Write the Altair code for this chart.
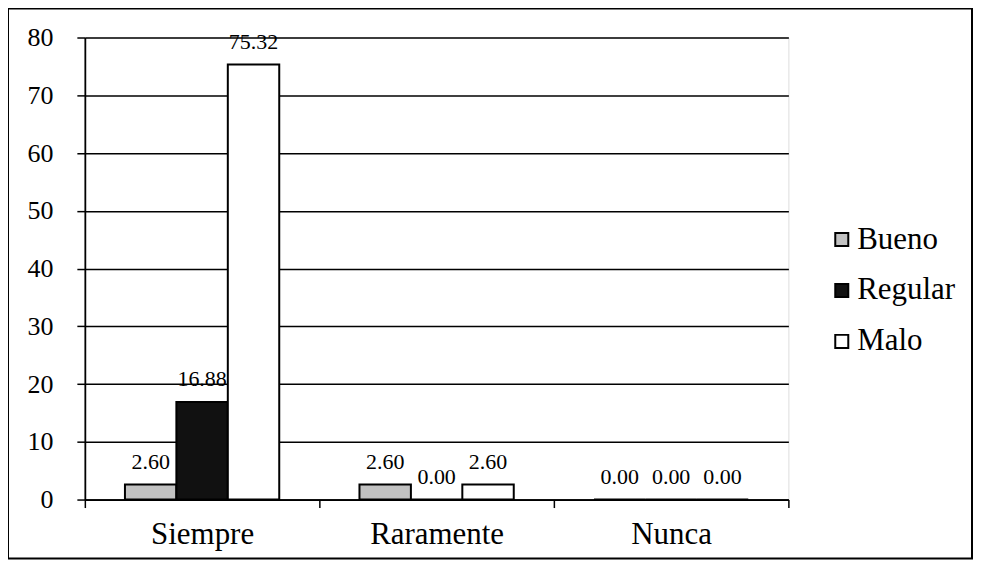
import altair as alt
import pandas as pd

categories = ["Siempre", "Raramente", "Nunca"]
series = ["Bueno", "Regular", "Malo"]
bueno = [2.60, 2.60, 0.00]
regular = [16.88, 0.00, 0.00]
malo = [75.32, 2.60, 0.00]

rows = []
for i, c in enumerate(categories):
    for s, vals in zip(series, [bueno, regular, malo]):
        rows.append({"cat": c, "serie": s, "valor": vals[i]})
df = pd.DataFrame(rows)

FONT = "Liberation Serif"
W, H = 705, 463

x = alt.X("cat:N", sort=categories, title=None,
          scale=alt.Scale(paddingInner=0, paddingOuter=0),
          axis=alt.Axis(labelAngle=0, labelFontSize=31, labelFont=FONT, labelColor="black",
                        tickBand="extent", tickSize=8, tickColor="black", tickWidth=1.5,
                        domainColor="black", domainWidth=1.8, labelPadding=12, grid=False))
xo = alt.XOffset("serie:N", sort=series,
                 scale=alt.Scale(paddingInner=0, paddingOuter=0.78))
y = alt.Y("valor:Q", title=None,
          scale=alt.Scale(domain=[0, 80], nice=False),
          axis=alt.Axis(values=list(range(0, 81, 10)), labelFontSize=26, labelFont=FONT,
                        labelColor="black", tickSize=8, tickColor="black", tickWidth=1.5,
                        domainColor="black", domainWidth=1.8, labelPadding=24,
                        grid=True, gridColor="black", gridWidth=1.5))

color = alt.Color("serie:N", sort=series, title=None,
                  scale=alt.Scale(domain=series, range=["#c2c2c2", "#111111", "#ffffff"]),
                  legend=alt.Legend(orient="none", legendX=743, legendY=187, padding=0,
                                    symbolType="square", symbolSize=170,
                                    symbolStrokeColor="black", symbolStrokeWidth=2,
                                    labelFont=FONT, labelFontSize=31, labelColor="black",
                                    rowPadding=19, labelOffset=0))

bars = alt.Chart(df).mark_bar(stroke="black", strokeWidth=2).encode(
    x=x, xOffset=xo, y=y, color=color)

labels = alt.Chart(df).mark_text(baseline="alphabetic", dy=-16, font=FONT, fontSize=22,
                                 color="black").encode(
    x=alt.X("cat:N", sort=categories), xOffset=alt.XOffset("serie:N", sort=series),
    y="valor:Q", text=alt.Text("valor:Q", format=".2f"))

frame = alt.Chart(pd.DataFrame({"k": [0]})).mark_rect(
    fill=None, stroke="black", strokeWidth=2).encode(
    x=alt.value(-77), x2=alt.value(889), y=alt.value(-29), y2=alt.value(522))

chart = alt.layer(bars, labels, frame).properties(
    width=W, height=H,
    autosize=alt.AutoSizeParams(type="none"),
    padding={"left": 77, "top": 29, "right": 185, "bottom": 60},
).configure_view(stroke=None).configure(background="white")

chart.save("out.html", embed_options={"renderer": "svg", "actions": False})
